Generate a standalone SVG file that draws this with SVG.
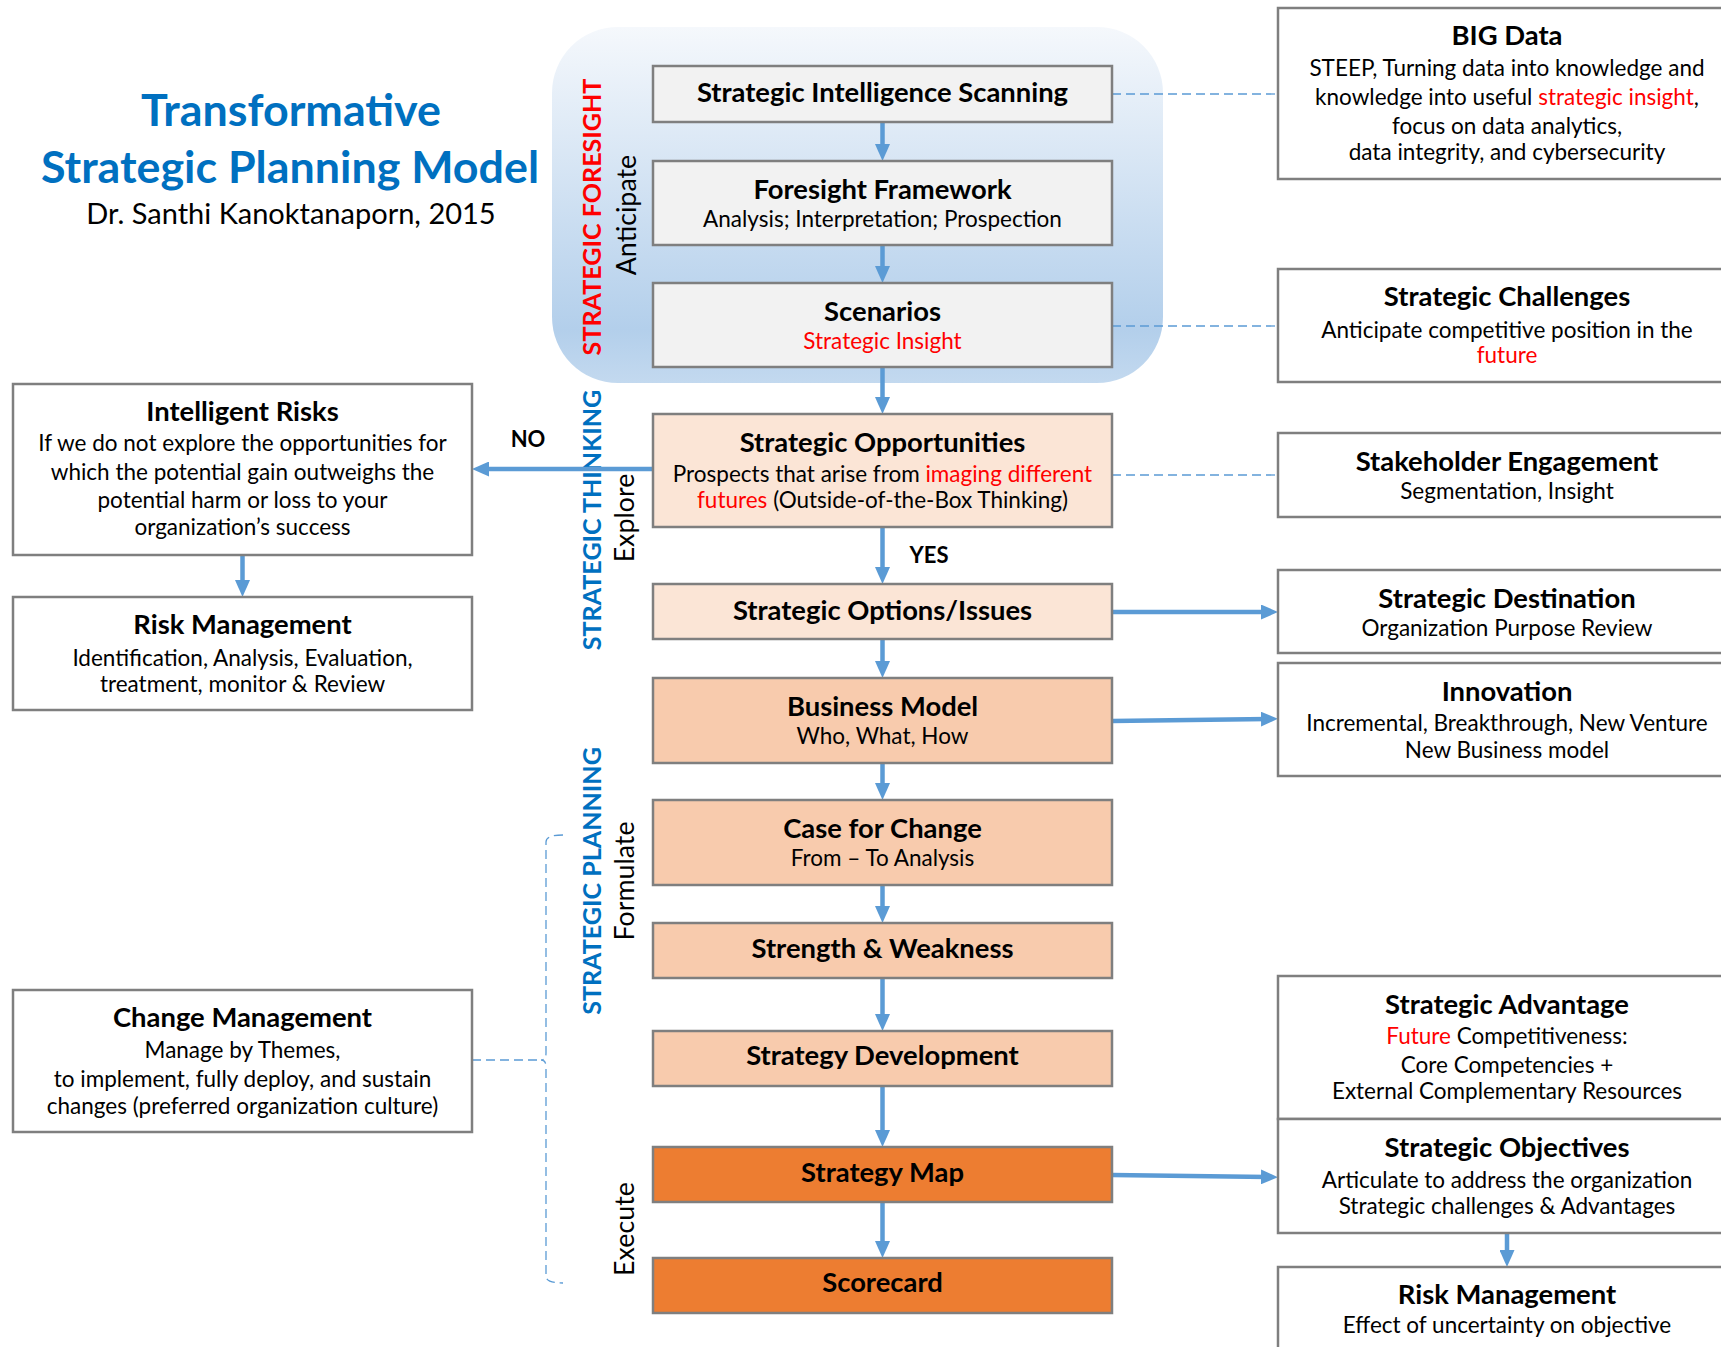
<svg xmlns="http://www.w3.org/2000/svg" width="1721" height="1347" viewBox="0 0 1721 1347">
  <defs>
    <linearGradient id="foresightFill" x1="0" y1="0" x2="0" y2="1">
      <stop offset="0" stop-color="#f5f8fc"/>
      <stop offset="0.85" stop-color="#b3cfeb"/>
      <stop offset="1" stop-color="#c3d9ef"/>
    </linearGradient>
    <marker id="ah" viewBox="0 0 17 15" markerWidth="17" markerHeight="15" refX="7" refY="7.5" orient="auto" markerUnits="userSpaceOnUse">
      <path d="M0,0 L17,7.5 L0,15 z" fill="#5b9bd5"/>
    </marker>
    <style>
      .box { stroke: #7f7f7f; stroke-width: 2.5; }
      .grey { fill: #f2f2f2; }
      .peach1 { fill: #fbe5d6; }
      .peach2 { fill: #f8cbad; }
      .orange { fill: #ed7d31; }
      .white { fill: #ffffff; }
      text { font-family: Lato, "Open Sans", "Liberation Sans", sans-serif; fill: #000; text-anchor: middle; }
      .h { font-weight: 700; font-size: 27.4px; }
      .b { font-weight: 400; font-size: 22.5px; }
      .red { fill: #ff0000; }
      .flow { stroke: #5b9bd5; stroke-width: 4.5; fill: none; marker-end: url(#ah); }
      .dash { stroke: #5b9bd5; stroke-width: 1.3; stroke-dasharray: 9 5; fill: none; }
      .lbl { font-weight: 700; font-size: 22px; }
      .phase { font-weight: 700; font-size: 25.1px; }
      .step { font-weight: 400; font-size: 26.8px; }
    </style>
  </defs>

  <rect width="1721" height="1347" fill="#ffffff"/>

  <!-- Title block -->
  <g id="title">
    <text x="291" y="126" font-size="44.8" font-weight="700" style="fill:#0070c0">Transformative</text>
    <text x="290" y="183" font-size="44.8" font-weight="700" style="fill:#0070c0">Strategic Planning Model</text>
    <text x="291" y="224" font-size="29">Dr. Santhi Kanoktanaporn, 2015</text>
  </g>

  <!-- Strategic foresight panel -->
  <g id="foresight-panel">
    <rect x="552" y="27" width="611" height="356" rx="66" fill="url(#foresightFill)"/>
  </g>

  <!-- Phase labels -->
  <g id="phase-labels">
    <text class="phase" transform="translate(601,217) rotate(-90)" style="fill:#ff0000">STRATEGIC FORESIGHT</text>
    <text class="step" transform="translate(636,215) rotate(-90)">Anticipate</text>
    <text class="phase" transform="translate(601,520) rotate(-90)" style="fill:#0070c0">STRATEGIC THINKING</text>
    <text class="step" transform="translate(634,518) rotate(-90)">Explore</text>
    <text class="phase" transform="translate(601,881) rotate(-90)" style="fill:#0070c0">STRATEGIC PLANNING</text>
    <text class="step" transform="translate(634,881) rotate(-90)">Formulate</text>
    <text class="step" transform="translate(634,1229) rotate(-90)">Execute</text>
  </g>

  <!-- Connectors -->
  <g id="connectors">
    <path class="flow" d="M882.5,122 V151"/>
    <path class="flow" d="M882.5,245 V273"/>
    <path class="flow" d="M882.5,367 V404"/>
    <path class="flow" d="M882.5,527 V574"/>
    <path class="flow" d="M882.5,639 V668"/>
    <path class="flow" d="M882.5,763 V790"/>
    <path class="flow" d="M882.5,885 V913"/>
    <path class="flow" d="M882.5,978 V1021"/>
    <path class="flow" d="M882.5,1086 V1137"/>
    <path class="flow" d="M882.5,1202 V1248"/>
    <path class="flow" d="M653,469 H482"/>
    <path class="flow" d="M242.5,555 V587"/>
    <path class="flow" d="M1112,612 H1268"/>
    <path class="flow" d="M1112,721 L1268,719"/>
    <path class="flow" d="M1112,1175 L1268,1177"/>
    <path class="flow" d="M1507,1233 V1257"/>
    <path class="dash" d="M1112,94 H1278"/>
    <path class="dash" d="M1112,326 H1278"/>
    <path class="dash" d="M1112,475 H1278"/>
    <path class="dash" d="M472,1060 H541"/>
    <path class="dash" d="M563,835 Q546,835 546,842 V1053 Q546,1060 541,1060 Q546,1060 546,1067 V1276 Q546,1283 563,1283"/>
    <text class="lbl" x="528" y="447">NO</text>
    <text class="lbl" x="929" y="563">YES</text>
  </g>

  <!-- Main flow -->
  <g id="strategic-intelligence-scanning">
    <rect class="box grey" x="653" y="66" width="459" height="56"/>
    <text class="h" x="882.5" y="102">Strategic Intelligence Scanning</text>
  </g>
  <g id="foresight-framework">
    <rect class="box grey" x="653" y="161" width="459" height="84"/>
    <text class="h" x="882.5" y="199">Foresight Framework</text>
    <text class="b" x="882.5" y="227">Analysis; Interpretation; Prospection</text>
  </g>
  <g id="scenarios">
    <rect class="box grey" x="653" y="283" width="459" height="84"/>
    <text class="h" x="882.5" y="321">Scenarios</text>
    <text class="b red" x="882.5" y="349">Strategic Insight</text>
  </g>
  <g id="strategic-opportunities">
    <rect class="box peach1" x="653" y="414" width="459" height="113"/>
    <text class="h" x="882.5" y="452">Strategic Opportunities</text>
    <text class="b" x="882.5" y="482">Prospects that arise from <tspan class="red">imaging different</tspan></text>
    <text class="b" x="882.5" y="508"><tspan class="red">futures</tspan> (Outside-of-the-Box Thinking)</text>
  </g>
  <g id="strategic-options">
    <rect class="box peach1" x="653" y="584" width="459" height="55"/>
    <text class="h" x="882.5" y="620">Strategic Options/Issues</text>
  </g>
  <g id="business-model">
    <rect class="box peach2" x="653" y="678" width="459" height="85"/>
    <text class="h" x="882.5" y="716">Business Model</text>
    <text class="b" x="882.5" y="744">Who, What, How</text>
  </g>
  <g id="case-for-change">
    <rect class="box peach2" x="653" y="800" width="459" height="85"/>
    <text class="h" x="882.5" y="838">Case for Change</text>
    <text class="b" x="882.5" y="866">From – To Analysis</text>
  </g>
  <g id="strength-weakness">
    <rect class="box peach2" x="653" y="923" width="459" height="55"/>
    <text class="h" x="882.5" y="958">Strength &amp; Weakness</text>
  </g>
  <g id="strategy-development">
    <rect class="box peach2" x="653" y="1031" width="459" height="55"/>
    <text class="h" x="882.5" y="1065">Strategy Development</text>
  </g>
  <g id="strategy-map">
    <rect class="box orange" x="653" y="1147" width="459" height="55"/>
    <text class="h" x="882.5" y="1182">Strategy Map</text>
  </g>
  <g id="scorecard">
    <rect class="box orange" x="653" y="1258" width="459" height="55"/>
    <text class="h" x="882.5" y="1292">Scorecard</text>
  </g>

  <!-- Left column -->
  <g id="intelligent-risks">
    <rect class="box white" x="13" y="384" width="459" height="171"/>
    <text class="h" x="242.5" y="421">Intelligent Risks</text>
    <text class="b" x="242.5" y="451">If we do not explore the opportunities for</text>
    <text class="b" x="242.5" y="480">which the potential gain outweighs the</text>
    <text class="b" x="242.5" y="508">potential harm or loss to your</text>
    <text class="b" x="242.5" y="535">organization’s success</text>
  </g>
  <g id="risk-management-left">
    <rect class="box white" x="13" y="597" width="459" height="113"/>
    <text class="h" x="242.5" y="634">Risk Management</text>
    <text class="b" x="242.5" y="666">Identification, Analysis, Evaluation,</text>
    <text class="b" x="242.5" y="692">treatment, monitor &amp; Review</text>
  </g>
  <g id="change-management">
    <rect class="box white" x="13" y="990" width="459" height="142"/>
    <text class="h" x="242.5" y="1027">Change Management</text>
    <text class="b" x="242.5" y="1058">Manage by Themes,</text>
    <text class="b" x="242.5" y="1087">to implement, fully deploy, and sustain</text>
    <text class="b" x="242.5" y="1114">changes (preferred organization culture)</text>
  </g>

  <!-- Right column -->
  <g id="big-data">
    <rect class="box white" x="1278" y="8" width="470" height="171"/>
    <text class="h" x="1507" y="45">BIG Data</text>
    <text class="b" x="1507" y="76">STEEP, Turning data into knowledge and</text>
    <text class="b" x="1507" y="105">knowledge into useful <tspan class="red">strategic insight</tspan>,</text>
    <text class="b" x="1507" y="134">focus on data analytics,</text>
    <text class="b" x="1507" y="160">data integrity, and cybersecurity</text>
  </g>
  <g id="strategic-challenges">
    <rect class="box white" x="1278" y="269" width="470" height="113"/>
    <text class="h" x="1507" y="306">Strategic Challenges</text>
    <text class="b" x="1507" y="338">Anticipate competitive position in the</text>
    <text class="b red" x="1507" y="363">future</text>
  </g>
  <g id="stakeholder-engagement">
    <rect class="box white" x="1278" y="433" width="470" height="84"/>
    <text class="h" x="1507" y="471">Stakeholder Engagement</text>
    <text class="b" x="1507" y="499">Segmentation, Insight</text>
  </g>
  <g id="strategic-destination">
    <rect class="box white" x="1278" y="570" width="470" height="83"/>
    <text class="h" x="1507" y="608">Strategic Destination</text>
    <text class="b" x="1507" y="636">Organization Purpose Review</text>
  </g>
  <g id="innovation">
    <rect class="box white" x="1278" y="663" width="470" height="113"/>
    <text class="h" x="1507" y="701">Innovation</text>
    <text class="b" x="1507" y="731">Incremental, Breakthrough, New Venture</text>
    <text class="b" x="1507" y="758">New Business model</text>
  </g>
  <g id="strategic-advantage">
    <rect class="box white" x="1278" y="976" width="470" height="143"/>
    <text class="h" x="1507" y="1014">Strategic Advantage</text>
    <text class="b" x="1507" y="1044"><tspan class="red">Future</tspan> Competitiveness:</text>
    <text class="b" x="1507" y="1073">Core Competencies +</text>
    <text class="b" x="1507" y="1099">External Complementary Resources</text>
  </g>
  <g id="strategic-objectives">
    <rect class="box white" x="1278" y="1119" width="470" height="114"/>
    <text class="h" x="1507" y="1157">Strategic Objectives</text>
    <text class="b" x="1507" y="1188">Articulate to address the organization</text>
    <text class="b" x="1507" y="1214">Strategic challenges &amp; Advantages</text>
  </g>
  <g id="risk-management-right">
    <rect class="box white" x="1278" y="1267" width="470" height="100"/>
    <text class="h" x="1507" y="1304">Risk Management</text>
    <text class="b" x="1507" y="1333">Effect of uncertainty on objective</text>
  </g>
</svg>
